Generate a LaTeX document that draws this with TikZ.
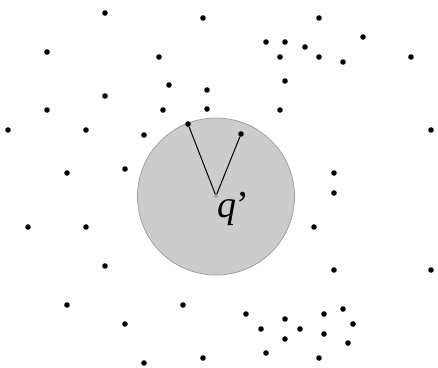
\documentclass[tikz,border=0pt]{standalone}
\usepackage{xcolor}
\usepackage{fontspec}
\setmainfont{Liberation Serif}
\usepackage{tikz}
\usetikzlibrary{positioning}

\definecolor{discfill}{HTML}{CCCCCC}
\definecolor{discline}{HTML}{999999}

\begin{document}
\begin{tikzpicture}[x=1pt, y=-1pt,
    pt/.style={circle, fill=black, inner sep=0pt, minimum size=5.6pt},
    disc/.style={circle, fill=discfill, draw=discline, line width=0.7pt, inner sep=0pt, minimum size=157pt},
    centre/.style={circle, draw=gray, fill=discfill, line width=0.5pt, inner sep=0pt, minimum size=3pt},
    ray/.style={line width=1pt}]
    \useasboundingbox (0,0) rectangle (438,367);

    % query range
    \node[disc] (range) at (216,196.5) {};

    % points
    \foreach \x/\y [count=\i] in {
        105/13, 203/18, 47/52, 159/57, 169/85, 207/90, 105/96, 47/110,
        163/110, 207/109, 8/130, 86/130, 144/135, 67/173, 125/169,
        319/18, 266/42, 285/42, 305/47, 363/37, 280/57, 319/57, 343/62,
        411/57, 285/81, 280/110, 431/130, 334/173,
        28/227, 86/227, 105/266, 67/305, 183/305, 125/324, 144/363, 203/358,
        334/193, 314/227, 334/270, 431/270, 246/314, 285/319, 261/329,
        300/329, 324/314, 343/309, 353/324, 324/334, 285/339, 348/343,
        266/353, 319/358}
        \node[pt] (p\i) at (\x,\y) {};

    \node[pt] (nnA) at (188,124) {};
    \node[pt] (nnB) at (241,134) {};

    % query point
    \node[centre] (q) at (216,196) {};
    \draw[ray] (q) -- (nnA);
    \draw[ray] (q) -- (nnB);
    \node[anchor=base west, inner sep=0pt, font=\fontsize{38}{38}\selectfont] (qlabel) at (217,217) {\textit{q}’};
\end{tikzpicture}
\end{document}
